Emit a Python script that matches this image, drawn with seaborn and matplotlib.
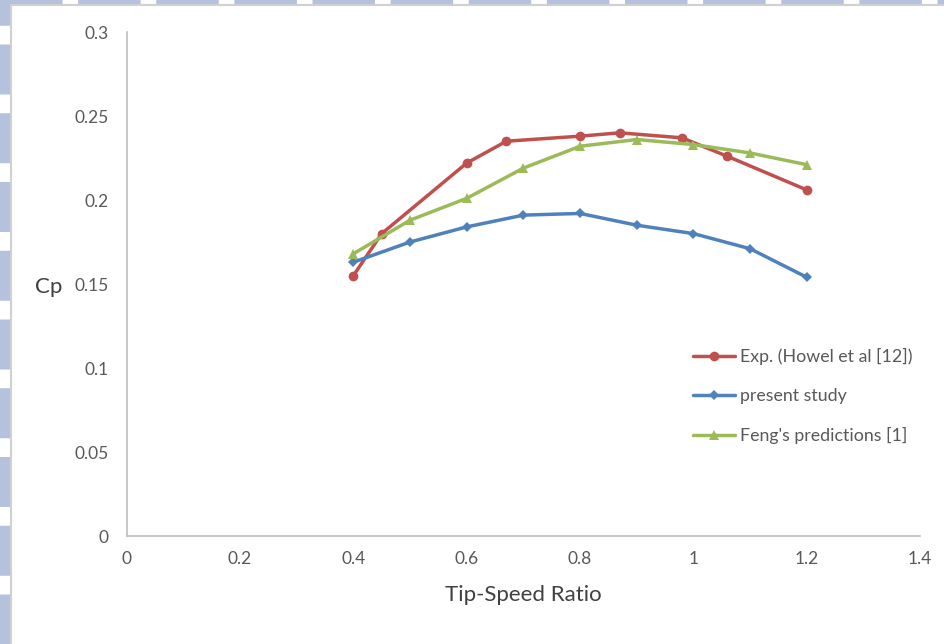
import matplotlib
matplotlib.use('Agg')
import matplotlib.pyplot as plt
import seaborn as sns
import pandas as pd
from matplotlib.lines import Line2D

# values
exp_tsr = [0.40, 0.45, 0.60, 0.67, 0.80, 0.87, 0.98, 1.06, 1.20]
exp_cp = [0.155, 0.180, 0.222, 0.235, 0.238, 0.240, 0.237, 0.226, 0.206]

study_tsr = [0.4, 0.5, 0.6, 0.7, 0.8, 0.9, 1.0, 1.1, 1.2]
study_cp = [0.163, 0.175, 0.184, 0.191, 0.192, 0.185, 0.180, 0.171, 0.154]

feng_tsr = [0.4, 0.5, 0.6, 0.7, 0.8, 0.9, 1.0, 1.1, 1.2]
feng_cp = [0.168, 0.188, 0.201, 0.219, 0.232, 0.236, 0.233, 0.228, 0.221]

series_names = ['Exp. (Howel et al [12])', 'present study', "Feng's predictions [1]"]
colors = ['#C0504D', '#4F81BD', '#9BBB59']
markers = ['o', 'D', '^']
marker_sizes = [7, 5.5, 7.5]

x_ticks = [0, 0.2, 0.4, 0.6, 0.8, 1, 1.2, 1.4]
x_labels = ['0', '0.2', '0.4', '0.6', '0.8', '1', '1.2', '1.4']
y_ticks = [0, 0.05, 0.1, 0.15, 0.2, 0.25, 0.3]
y_labels = ['0', '0.05', '0.1', '0.15', '0.2', '0.25', '0.3']

frames = []
for name, xs, ys in zip(series_names, [exp_tsr, study_tsr, feng_tsr], [exp_cp, study_cp, feng_cp]):
    frames.append(pd.DataFrame({'tsr': xs, 'cp': ys, 'series': name}))
data = pd.concat(frames, ignore_index=True)

sns.set_style('white')
plt.rcParams['font.family'] = ['Lato', 'DejaVu Sans']

fig = plt.figure(figsize=(9.44, 6.44), dpi=100)
ax = fig.add_axes([0.1342, 0.1677, 0.8405, 0.7826])

# screenshot frame: blue strips at top/left and a thin grey border
fig.add_artist(Line2D([0.0, 1.0], [0.997, 0.997], transform=fig.transFigure,
                      color='#B4C2DE', lw=4.5, dashes=(10, 2.5)))
fig.add_artist(Line2D([0.005, 0.005], [0.0, 1.0], transform=fig.transFigure,
                      color='#B4C2DE', lw=9, dashes=(4, 1.5)))
fig.add_artist(Line2D([0.0115, 1.0], [0.9915, 0.9915], transform=fig.transFigure,
                      color='#D0D0D0', lw=1.5))
fig.add_artist(Line2D([0.0115, 0.0115], [0.0, 0.9915], transform=fig.transFigure,
                      color='#D0D0D0', lw=1.5))

for name, color, marker, ms in zip(series_names, colors, markers, marker_sizes):
    sub = data[data['series'] == name]
    sns.lineplot(data=sub, x='tsr', y='cp', ax=ax, color=color, lw=2.5,
                 marker=marker, markersize=ms, markeredgewidth=0,
                 label=name, sort=False)

ax.set_xlim(0, 1.4)
ax.set_ylim(0, 0.3)
ax.set_xticks(x_ticks)
ax.set_xticklabels(x_labels)
ax.set_yticks(y_ticks)
ax.set_yticklabels(y_labels)

for side in ['top', 'right']:
    ax.spines[side].set_visible(False)
for side in ['left', 'bottom']:
    ax.spines[side].set_color('#BFBFBF')
    ax.spines[side].set_linewidth(1.2)

ax.tick_params(axis='both', direction='in', length=5, width=1.2, color='#BFBFBF',
               labelcolor='#595959', labelsize=12.5)
ax.tick_params(axis='x', pad=11)
ax.tick_params(axis='y', pad=13)

ax.set_xlabel('Tip-Speed Ratio', fontsize=16, color='#404040', labelpad=13)
ax.set_ylabel('Cp', fontsize=16, color='#404040', rotation=0, va='center', ha='center')
ax.yaxis.set_label_coords(-0.098, 0.494)

leg = ax.legend(loc='upper left', bbox_to_anchor=(0.694, 0.405), frameon=False,
                fontsize=12.8, handlelength=2.35, handletextpad=0.3, labelspacing=1.3,
                labelcolor='#595959')

fig.savefig('out.png', dpi=100, facecolor='white')
